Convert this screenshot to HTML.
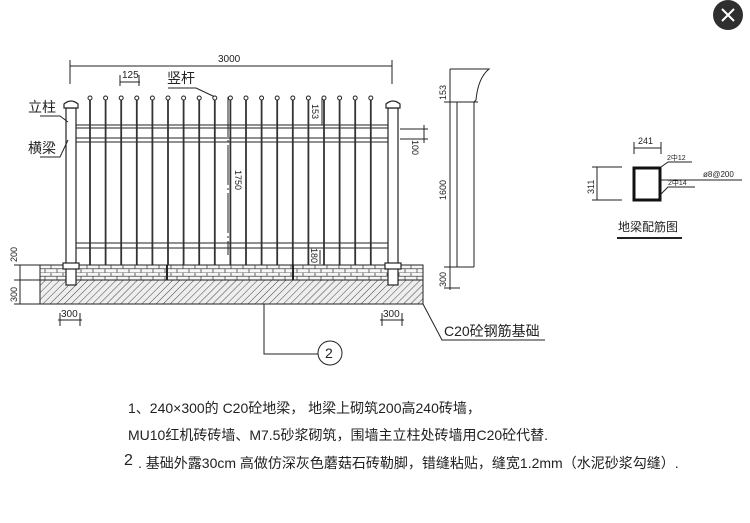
<!DOCTYPE html>
<html><head><meta charset="utf-8"><style>
html,body{margin:0;padding:0;background:#fff;}
svg{display:block;}
text{font-family:"Liberation Sans","Noto Sans CJK SC",sans-serif;fill:#222;}
</style></head><body>
<svg width="750" height="523" viewBox="0 0 750 523" xmlns="http://www.w3.org/2000/svg">
<defs>
<pattern id="hat" width="5" height="5" patternUnits="userSpaceOnUse" patternTransform="rotate(45)">
<rect width="5" height="5" fill="#eee"/><line x1="0" y1="0" x2="0" y2="5" stroke="#444" stroke-width="1"/>
</pattern>
<pattern id="brick" width="12" height="7.5" patternUnits="userSpaceOnUse" y="265">
<rect width="12" height="7.5" fill="#f6f6f6"/>
<path d="M0 0H12M0 3.75H12M3 0V3.75M9 3.75V7.5" stroke="#444" stroke-width="0.8" fill="none"/>
</pattern>
</defs>
<g stroke="#222" fill="none" stroke-width="1">
<line x1="70" y1="66" x2="392" y2="66"/>
<line x1="70" y1="60" x2="70" y2="84"/><line x1="392" y1="60" x2="392" y2="84"/>
<line x1="120" y1="82" x2="140" y2="82"/><line x1="120" y1="75" x2="120" y2="86"/><line x1="139" y1="75" x2="139" y2="86"/>
<path d="M168 88 L196 88 L215 97"/>
<line x1="76" y1="125" x2="388" y2="125"/><line x1="76" y1="128" x2="388" y2="128"/>
<line x1="76" y1="138" x2="388" y2="138"/><line x1="76" y1="142" x2="388" y2="142"/>
<line x1="76" y1="243" x2="388" y2="243"/><line x1="76" y1="248" x2="388" y2="248"/>
</g>
<g stroke="#333" stroke-width="1.8">
<line x1="90" y1="100" x2="90" y2="265"/><line x1="105.6" y1="100" x2="105.6" y2="265"/><line x1="121.2" y1="100" x2="121.2" y2="265"/><line x1="136.8" y1="100" x2="136.8" y2="265"/><line x1="152.4" y1="100" x2="152.4" y2="265"/><line x1="168" y1="100" x2="168" y2="265"/><line x1="183.6" y1="100" x2="183.6" y2="265"/><line x1="199.2" y1="100" x2="199.2" y2="265"/><line x1="214.8" y1="100" x2="214.8" y2="265"/><line x1="230.4" y1="100" x2="230.4" y2="265"/><line x1="246" y1="100" x2="246" y2="265"/><line x1="261.6" y1="100" x2="261.6" y2="265"/><line x1="277.2" y1="100" x2="277.2" y2="265"/><line x1="292.8" y1="100" x2="292.8" y2="265"/><line x1="308.4" y1="100" x2="308.4" y2="265"/><line x1="324" y1="100" x2="324" y2="265"/><line x1="339.6" y1="100" x2="339.6" y2="265"/><line x1="355.2" y1="100" x2="355.2" y2="265"/><line x1="370.8" y1="100" x2="370.8" y2="265"/>
</g>
<g fill="#fff" stroke="#222" stroke-width="1">
<circle cx="90" cy="98" r="2"/><circle cx="105.6" cy="98" r="2"/><circle cx="121.2" cy="98" r="2"/><circle cx="136.8" cy="98" r="2"/><circle cx="152.4" cy="98" r="2"/><circle cx="168" cy="98" r="2"/><circle cx="183.6" cy="98" r="2"/><circle cx="199.2" cy="98" r="2"/><circle cx="214.8" cy="98" r="2"/><circle cx="230.4" cy="98" r="2"/><circle cx="246" cy="98" r="2"/><circle cx="261.6" cy="98" r="2"/><circle cx="277.2" cy="98" r="2"/><circle cx="292.8" cy="98" r="2"/><circle cx="308.4" cy="98" r="2"/><circle cx="324" cy="98" r="2"/><circle cx="339.6" cy="98" r="2"/><circle cx="355.2" cy="98" r="2"/><circle cx="370.8" cy="98" r="2"/>
</g>
<rect x="40" y="265" width="383" height="15" fill="url(#brick)" stroke="#222"/>
<rect x="40" y="280" width="383" height="24" fill="url(#hat)" stroke="#222"/>
<line x1="167" y1="265" x2="167" y2="280" stroke="#222" stroke-width="2"/>
<line x1="293" y1="265" x2="293" y2="280" stroke="#222" stroke-width="2"/>
<g fill="#fff" stroke="#222" stroke-width="1.2">
<rect x="66" y="108" width="10" height="177"/>
<rect x="388" y="108" width="10" height="177"/>
<path d="M64 108 L64 104 Q71 98 78 104 L78 108 Z"/>
<path d="M386 108 L386 104 Q393 98 400 104 L400 108 Z"/>
<rect x="63" y="263" width="16" height="6"/>
<rect x="385" y="263" width="16" height="6"/>
</g>
<g stroke="#222" fill="none" stroke-width="1">
<line x1="228" y1="97" x2="228" y2="255" stroke-dasharray="40 3 2 3"/>
<line x1="322" y1="97" x2="322" y2="125"/>
<line x1="320" y1="250" x2="320" y2="264"/>
<line x1="20" y1="265" x2="20" y2="304"/>
<line x1="14" y1="265" x2="40" y2="265"/><line x1="14" y1="280" x2="40" y2="280"/><line x1="14" y1="304" x2="40" y2="304"/>
<line x1="400" y1="129" x2="428" y2="129"/><line x1="400" y1="139" x2="428" y2="139"/><line x1="424" y1="125" x2="424" y2="143"/>
<line x1="58" y1="320" x2="82" y2="320"/><line x1="60" y1="313" x2="60" y2="326"/><line x1="80" y1="313" x2="80" y2="326"/>
<line x1="380" y1="320" x2="404" y2="320"/><line x1="382" y1="313" x2="382" y2="326"/><line x1="402" y1="313" x2="402" y2="326"/>
<path d="M264 304 V354 H318"/>
<circle cx="330" cy="353" r="12"/>
<path d="M423 304 L442 340 H545"/>
<path d="M40 116 L60 116 L68 122"/>
<path d="M40 157 L60 157 L68 140"/>
<line x1="450" y1="69" x2="450" y2="290"/>
<line x1="444" y1="102" x2="478" y2="102"/><line x1="444" y1="267" x2="460" y2="267"/><line x1="444" y1="288" x2="460" y2="288"/>
<path d="M450 69 H489 Q478 78 476 100 L474 102"/>
<line x1="457" y1="102" x2="457" y2="267"/>
<line x1="474" y1="102" x2="474" y2="267"/>
<line x1="450" y1="267" x2="474" y2="267"/>
<line x1="634" y1="148" x2="661" y2="148"/><line x1="634" y1="142" x2="634" y2="154"/><line x1="661" y1="142" x2="661" y2="154"/>
<line x1="597" y1="167" x2="597" y2="200"/><line x1="592" y1="167" x2="622" y2="167"/><line x1="592" y1="200" x2="622" y2="200"/>
<path d="M661 167 L668 162 H692"/>
<path d="M661 194 L668 187 H695"/>
<line x1="661" y1="180" x2="742" y2="180"/>
</g>
<rect x="634" y="168" width="26" height="32" fill="none" stroke="#111" stroke-width="3"/>
<line x1="617" y1="238" x2="682" y2="238" stroke="#222" stroke-width="2"/>
<g font-size="10">
<text x="218" y="62">3000</text>
<text x="122" y="78">125</text>
</g>
<text x="167" y="83" font-size="14">竖杆</text>
<text x="28" y="112" font-size="14">立柱</text>
<text x="28" y="153" font-size="14">横梁</text>
<g font-size="9">
<text transform="translate(235,170) rotate(90)">1750</text>
<text transform="translate(312,104) rotate(90)">153</text>
<text transform="translate(311,248) rotate(90)">180</text>
<text transform="translate(412,140) rotate(90)">100</text>
<text transform="translate(17,262) rotate(-90)">200</text>
<text transform="translate(17,302) rotate(-90)">300</text>
<text transform="translate(446,100) rotate(-90)">153</text>
<text transform="translate(446,200) rotate(-90)">1600</text>
<text transform="translate(446,287) rotate(-90)">300</text>
<text transform="translate(594,194) rotate(-90)">311</text>
<text x="61" y="317" font-size="10">300</text>
<text x="383" y="317" font-size="10">300</text>
<text x="638" y="144">241</text>
<text x="667" y="160" font-size="7">2中12</text>
<text x="668" y="185" font-size="7">2中14</text>
<text x="703" y="177" font-size="8">ø8@200</text>
</g>
<text x="325" y="358" font-size="14">2</text>
<text x="444" y="336" font-size="14">C20砼钢筋基础</text>
<text x="618" y="231" font-size="12">地梁配筋图</text>
<g font-size="14">
<text x="128" y="413">1、240×300的 C20砼地梁，  地梁上砌筑200高240砖墙，</text>
<text x="128" y="440">MU10红机砖砖墙、M7.5砂浆砌筑，围墙主立柱处砖墙用C20砼代替.</text>
<text x="124" y="465" font-size="16">2</text>
<text x="138" y="468">. 基础外露30cm  高做仿深灰色蘑菇石砖勒脚，错缝粘贴，缝宽1.2mm（水泥砂浆勾缝）.</text>
</g>
<circle cx="728" cy="15" r="15" fill="#2f2f2f"/>
<path d="M722 9 L734 21 M734 9 L722 21" stroke="#fff" stroke-width="2"/>
</svg>
</body></html>
